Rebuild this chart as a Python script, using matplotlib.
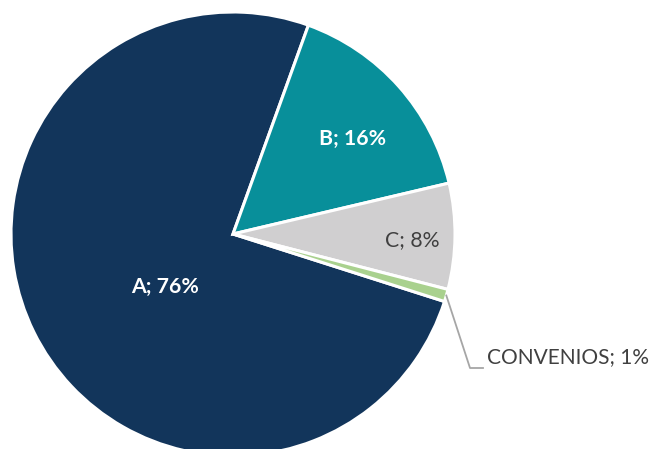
import numpy as np
import matplotlib.pyplot as plt

plt.rcParams['font.family'] = ['Lato', 'DejaVu Sans']

labels = ['A', 'B', 'C', 'CONVENIOS']
values = [75.6, 15.8, 7.7, 0.9]
pct_text = ['76%', '16%', '8%', '1%']
colors = ['#12355b', '#088f9a', '#d0cfd0', '#a9d18e']

fig = plt.figure(figsize=(6.49, 4.49), dpi=100)
# pie centre ~ (233, 234) px, radius ~222 px
ax = fig.add_axes([11/649, (449-234-222)/449, 444/649, 444/449])

wedges, _ = ax.pie(values, colors=colors, startangle=-17.7, counterclock=False,
                   radius=1, wedgeprops=dict(edgecolor='white', linewidth=2.2),
                   frame=True)
ax.set_xlim(-1, 1)
ax.set_ylim(-1, 1)
ax.set_aspect('equal')
ax.axis('off')

# inside labels (angle in degrees, distance from centre)
lab_ang = [218, 38.5, -1.9]
r_in = [0.39, 0.69, 0.81]
tcol = ['white', 'white', '#404040']
weights = ['bold', 'bold', 'normal']
for i in range(3):
    a = np.deg2rad(lab_ang[i])
    ax.text(r_in[i]*np.cos(a), r_in[i]*np.sin(a), labels[i] + '; ' + pct_text[i],
            ha='center', va='center', color=tcol[i], fontsize=15.3, fontweight=weights[i])

# leader label for the small slice
w = wedges[3]
a = np.deg2rad((w.theta1 + w.theta2) / 2)
p0 = (1.0*np.cos(a), 1.0*np.sin(a))
knee = ((470-233)/222, (234-368)/222)
end = ((483-233)/222, (234-368)/222)
ax.plot([p0[0], knee[0], end[0]], [p0[1], knee[1], end[1]], color='#a6a6a6', lw=1.3,
        clip_on=False)
ax.text(end[0] + 0.02, end[1] + 0.005, labels[3] + '; ' + pct_text[3], ha='left', va='bottom',
        color='#404040', fontsize=15, clip_on=False)

fig.savefig('out.png', dpi=100)
